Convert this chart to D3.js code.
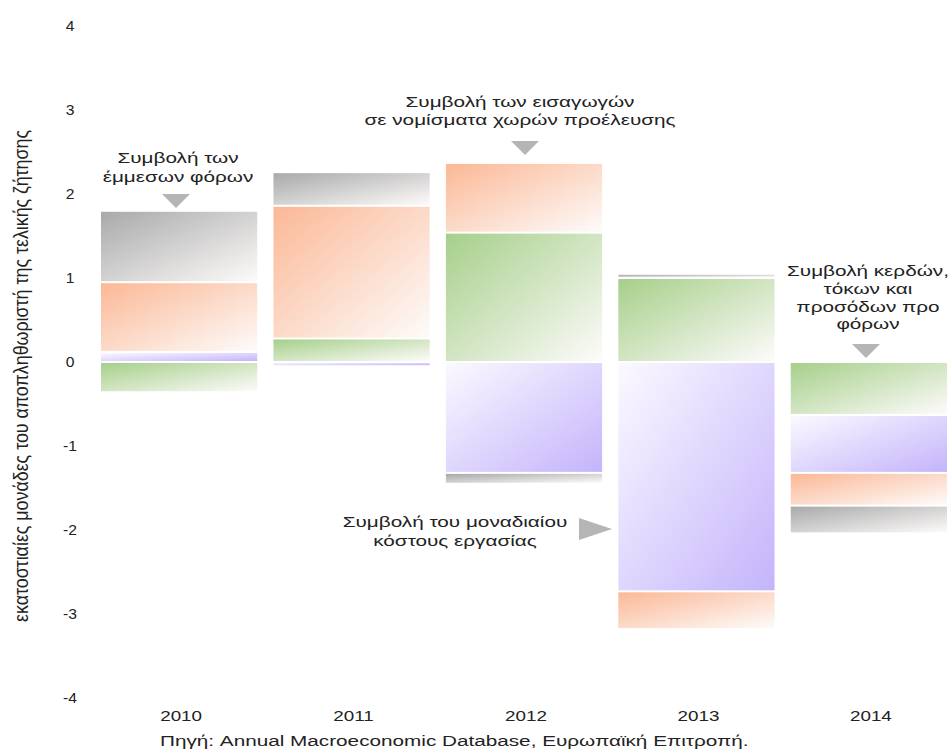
<!DOCTYPE html>
<html>
<head>
<meta charset="utf-8">
<script src="https://cdn.jsdelivr.net/npm/d3@7"></script>
<style>
  body { margin: 0; background: #fff; }
  text { font-family: "Liberation Sans", Arial, sans-serif; fill: #222; }
</style>
</head>
<body>
<div id="chart"></div>
<script>
// Data: contributions to the final demand deflator (percentage points)
var years = ["2010", "2011", "2012", "2013", "2014"];
var profits = [-0.36, 0.28, 1.54, 1.0, -0.63];      // green
var unitLabour = [0.12, -0.05, -1.32, -2.73, -0.69]; // purple
var imports = [0.83, 1.58, 0.83, -0.45, -0.39];     // orange
var indirectTax = [0.85, 0.4, -0.13, 0.05, -0.33];  // grey
var yTicks = [-4, -3, -2, -1, 0, 1, 2, 3, 4];

var seriesKeys = ["profits", "unitLabour", "imports", "indirectTax"];
var colors = {
    profits: "#a6cf8a",
    unitLabour: "#c4b4fb",
    imports: "#fbb896",
    indirectTax: "#a9a9a9"
};

var table = years.map(function(y, i) {
    return { year: y, profits: profits[i], unitLabour: unitLabour[i], imports: imports[i], indirectTax: indirectTax[i] };
});

var width = 948, height = 751;

var svg = d3.select("#chart").append("svg")
    .attr("width", width)
    .attr("height", height);

var x = d3.scaleBand()
    .domain(years)
    .range([101, 947])
    .paddingInner(0.094);

var y = d3.scaleLinear()
    .domain([-4, 4])
    .range([698, 26]);

// gradients: strong colour top-left fading to white bottom-right (purple reversed)
var defs = svg.append("defs");
seriesKeys.forEach(function(k) {
    var g = defs.append("linearGradient")
        .attr("id", "grad-" + k)
        .attr("x1", 0).attr("y1", 0).attr("x2", 1).attr("y2", 1);
    var reversed = (k === "unitLabour");
    g.append("stop").attr("offset", "0%")
        .attr("stop-color", reversed ? "#fbf9ff" : colors[k]);
    g.append("stop").attr("offset", "100%")
        .attr("stop-color", reversed ? colors[k] : "#fdfbfa");
});

var stack = d3.stack()
    .keys(seriesKeys)
    .offset(d3.stackOffsetDiverging);
var stacked = stack(table);

svg.append("g")
    .selectAll("g")
    .data(stacked)
    .enter().append("g")
    .attr("fill", function(d) { return "url(#grad-" + d.key + ")"; })
    .selectAll("rect")
    .data(function(d) { return d; })
    .enter().append("rect")
    .attr("x", function(d) { return x(d.data.year); })
    .attr("width", x.bandwidth())
    .attr("y", function(d) { return y(Math.max(d[0], d[1])) + 1; })
    .attr("height", function(d) {
        return Math.max(0, Math.abs(y(d[0]) - y(d[1])) - 2);
    });

// the source picture is stretched sideways, so text gets a horizontal scale
function stretched(px, py, sx) {
    return "translate(" + px + "," + py + ") scale(" + sx + ",1)";
}

// Y axis tick labels (no axis line)
svg.append("g")
    .selectAll("text")
    .data(yTicks)
    .enter().append("text")
    .attr("transform", function(d) { return stretched(70, y(d), 1.12); })
    .attr("dy", "0.35em")
    .attr("text-anchor", "middle")
    .style("font-size", "14px")
    .text(function(d) { return d < 0 ? "-" + Math.abs(d) : d; });

// X labels
svg.append("g")
    .selectAll("text")
    .data(years)
    .enter().append("text")
    .attr("transform", function(d) { return stretched(x(d) + x.bandwidth() / 2 + 2, 721, 1.3); })
    .attr("text-anchor", "middle")
    .style("font-size", "14.5px")
    .text(function(d) { return d; });

// Y axis title
svg.append("text")
    .attr("transform", "translate(28,376) rotate(-90) scale(1,1.45)")
    .attr("text-anchor", "middle")
    .attr("textLength", 492)
    .attr("lengthAdjust", "spacingAndGlyphs")
    .style("font-size", "14px")
    .text("εκατοστιαίες μονάδες του αποπληθωριστή της τελικής ζήτησης");

// Source
svg.append("text")
    .attr("transform", stretched(160, 746, 1.48))
    .style("font-size", "14px")
    .text("Πηγή: Annual Macroeconomic Database, Ευρωπαϊκή Επιτροπή.");

// Annotations
var notes = [
    { lines: ["Συμβολή των", "έμμεσων φόρων"], cx: 178, y0: 163, step: 19, dir: "down", tx: 176, ty: 208 },
    { lines: ["Συμβολή των εισαγωγών", "σε νομίσματα χωρών προέλευσης"], cx: 520, y0: 107, step: 18, dir: "down", tx: 525, ty: 155 },
    { lines: ["Συμβολή κερδών,", "τόκων και", "προσόδων προ", "φόρων"], cx: 868, y0: 276, step: 17.8, dir: "down", tx: 866, ty: 358 },
    { lines: ["Συμβολή του μοναδιαίου", "κόστους εργασίας"], cx: 455, y0: 527, step: 19, dir: "right", tx: 612, ty: 529 }
];

notes.forEach(function(n) {
    var t = svg.append("text")
        .attr("transform", stretched(n.cx, n.y0, 1.48))
        .attr("text-anchor", "middle")
        .style("font-size", "14px");
    n.lines.forEach(function(l, i) {
        t.append("tspan")
            .attr("x", 0)
            .attr("y", i * n.step)
            .text(l);
    });
    var pts;
    if (n.dir === "down") {
        pts = [[n.tx - 14, n.ty - 14], [n.tx + 14, n.ty - 14], [n.tx, n.ty]];
    } else {
        pts = [[n.tx - 33, n.ty - 11], [n.tx - 33, n.ty + 11], [n.tx, n.ty]];
    }
    svg.append("path")
        .attr("d", d3.line()(pts) + "Z")
        .attr("fill", "#b5b5b5");
});
</script>
</body>
</html>
